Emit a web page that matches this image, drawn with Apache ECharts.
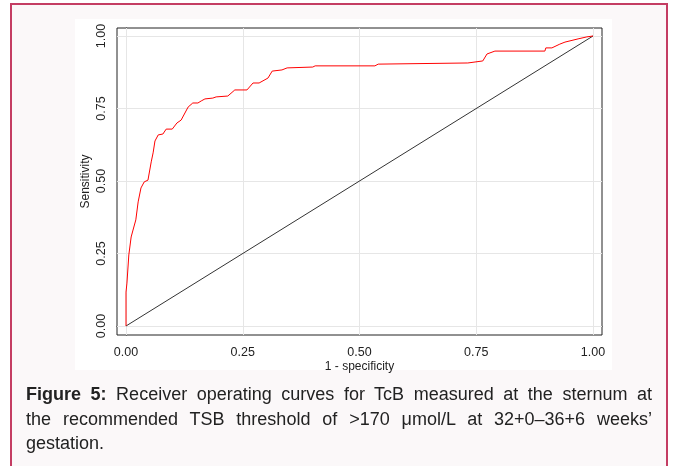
<!DOCTYPE html>
<html>
<head>
<meta charset="utf-8">
<script src="https://cdn.jsdelivr.net/npm/echarts@6/dist/echarts.min.js"></script>
<style>
  html, body { margin: 0; padding: 0; background: #fff; }
  body { width: 677px; height: 466px; position: relative; overflow: hidden; font-family: "Liberation Sans", Arial, sans-serif; }
  .frame { position: absolute; left: 10px; top: 3px; width: 654px; height: 480px; border: 2px solid #c43d63; background: #fbf8f9; }
  .panel { position: absolute; left: 75px; top: 19px; width: 537px; height: 351px; background: #fff; }
  #chart { position: absolute; left: 0; top: 0; width: 677px; height: 466px; }
  .caption { position: absolute; left: 26px; top: 382px; width: 626px; font-size: 18px; line-height: 24.5px; color: #222; }
  .caption div { text-align: justify; white-space: nowrap; }
  .caption .full { white-space: normal; text-align-last: justify; }
</style>
</head>
<body>
<div class="frame"></div>
<div class="panel"></div>
<div id="chart"></div>
<div class="caption">
  <div class="full"><b>Figure 5:</b> Receiver operating curves for TcB measured at the sternum at</div>
  <div class="full">the recommended TSB threshold of &gt;170 μmol/L at 32+0–36+6 weeks’</div>
  <div>gestation.</div>
</div>
<script>
// ROC curve
var fpr = [0, 0, 0.002, 0.006, 0.011, 0.015, 0.021, 0.026, 0.032, 0.039, 0.047, 0.054, 0.058, 0.062,
  0.069, 0.079, 0.086, 0.099, 0.109, 0.118, 0.133, 0.143, 0.154, 0.161, 0.169, 0.186, 0.193, 0.218,
  0.233, 0.259, 0.272, 0.285, 0.304, 0.313, 0.334, 0.345, 0.400, 0.405, 0.533, 0.540, 0.732, 0.764,
  0.773, 0.790, 0.897, 0.899, 0.912, 0.929, 0.940, 0.968, 0.987, 1];
var tpr = [0, 0.117, 0.148, 0.245, 0.307, 0.331, 0.366, 0.428, 0.476, 0.497, 0.503, 0.566, 0.597, 0.638,
  0.659, 0.662, 0.679, 0.679, 0.700, 0.710, 0.755, 0.769, 0.769, 0.776, 0.783, 0.786, 0.790, 0.793,
  0.814, 0.814, 0.838, 0.838, 0.855, 0.879, 0.883, 0.890, 0.893, 0.897, 0.897, 0.903, 0.907, 0.914,
  0.938, 0.948, 0.948, 0.959, 0.959, 0.972, 0.979, 0.990, 0.997, 1];
var refLine = [[0, 0], [1, 1]];
var ticks = [0, 0.25, 0.5, 0.75, 1];
var tickLabels = ["0.00", "0.25", "0.50", "0.75", "1.00"];

var rocData = fpr.map(function (x, i) { return [x, tpr[i]]; });

var gridLines = [];
ticks.forEach(function (t) {
  gridLines.push({ xAxis: t });
  gridLines.push({ yAxis: t });
});

function fmt(v) {
  var i = ticks.indexOf(v);
  return i >= 0 ? tickLabels[i] : "";
}

var myChart = echarts.init(document.getElementById("chart"), null, { renderer: "canvas" });
myChart.setOption({
  backgroundColor: "transparent",
  animation: false,
  textStyle: { fontFamily: "Liberation Sans, Arial, sans-serif" },
  grid: {
    left: 117,
    top: 28,
    right: 75,
    bottom: 131,
    show: true,
    borderColor: "#222",
    borderWidth: 1
  },
  xAxis: {
    type: "value",
    min: -0.0193,
    max: 1.0193,
    name: "1 - specificity",
    nameLocation: "middle",
    nameGap: 26,
    nameMoveOverlap: false,
    nameTextStyle: { color: "#222", fontSize: 12 },
    axisLine: { show: true, lineStyle: { color: "#222" } },
    axisTick: { show: true, length: 6, customValues: ticks, lineStyle: { color: "#222" } },
    axisLabel: { customValues: ticks, formatter: fmt, color: "#222", fontSize: 12.5, margin: 11 },
    splitLine: { show: false }
  },
  yAxis: {
    type: "value",
    min: -0.031,
    max: 1.0276,
    name: "Sensitivity",
    nameLocation: "middle",
    nameGap: 25,
    nameMoveOverlap: false,
    nameRotate: 90,
    nameTextStyle: { color: "#222", fontSize: 12 },
    axisLine: { show: true, lineStyle: { color: "#222" } },
    axisTick: { show: true, length: 6, customValues: ticks, lineStyle: { color: "#222" } },
    axisLabel: { customValues: ticks, formatter: fmt, rotate: 90, color: "#222", fontSize: 12.5, margin: 9 },
    splitLine: { show: false }
  },
  series: [
    {
      // light grid lines behind the curves
      type: "line",
      data: [],
      z: 1,
      silent: true,
      markLine: {
        z: 1,
        silent: true,
        symbol: "none",
        label: { show: false },
        lineStyle: { color: "#e6e6e6", width: 1, type: "solid" },
        data: gridLines
      }
    },
    {
      type: "line",
      data: refLine,
      z: 3,
      showSymbol: false,
      lineStyle: { color: "#333", width: 1 }
    },
    {
      type: "line",
      data: rocData,
      z: 4,
      showSymbol: false,
      lineStyle: { color: "#ff0000", width: 1 }
    }
  ]
});
</script>
</body>
</html>
